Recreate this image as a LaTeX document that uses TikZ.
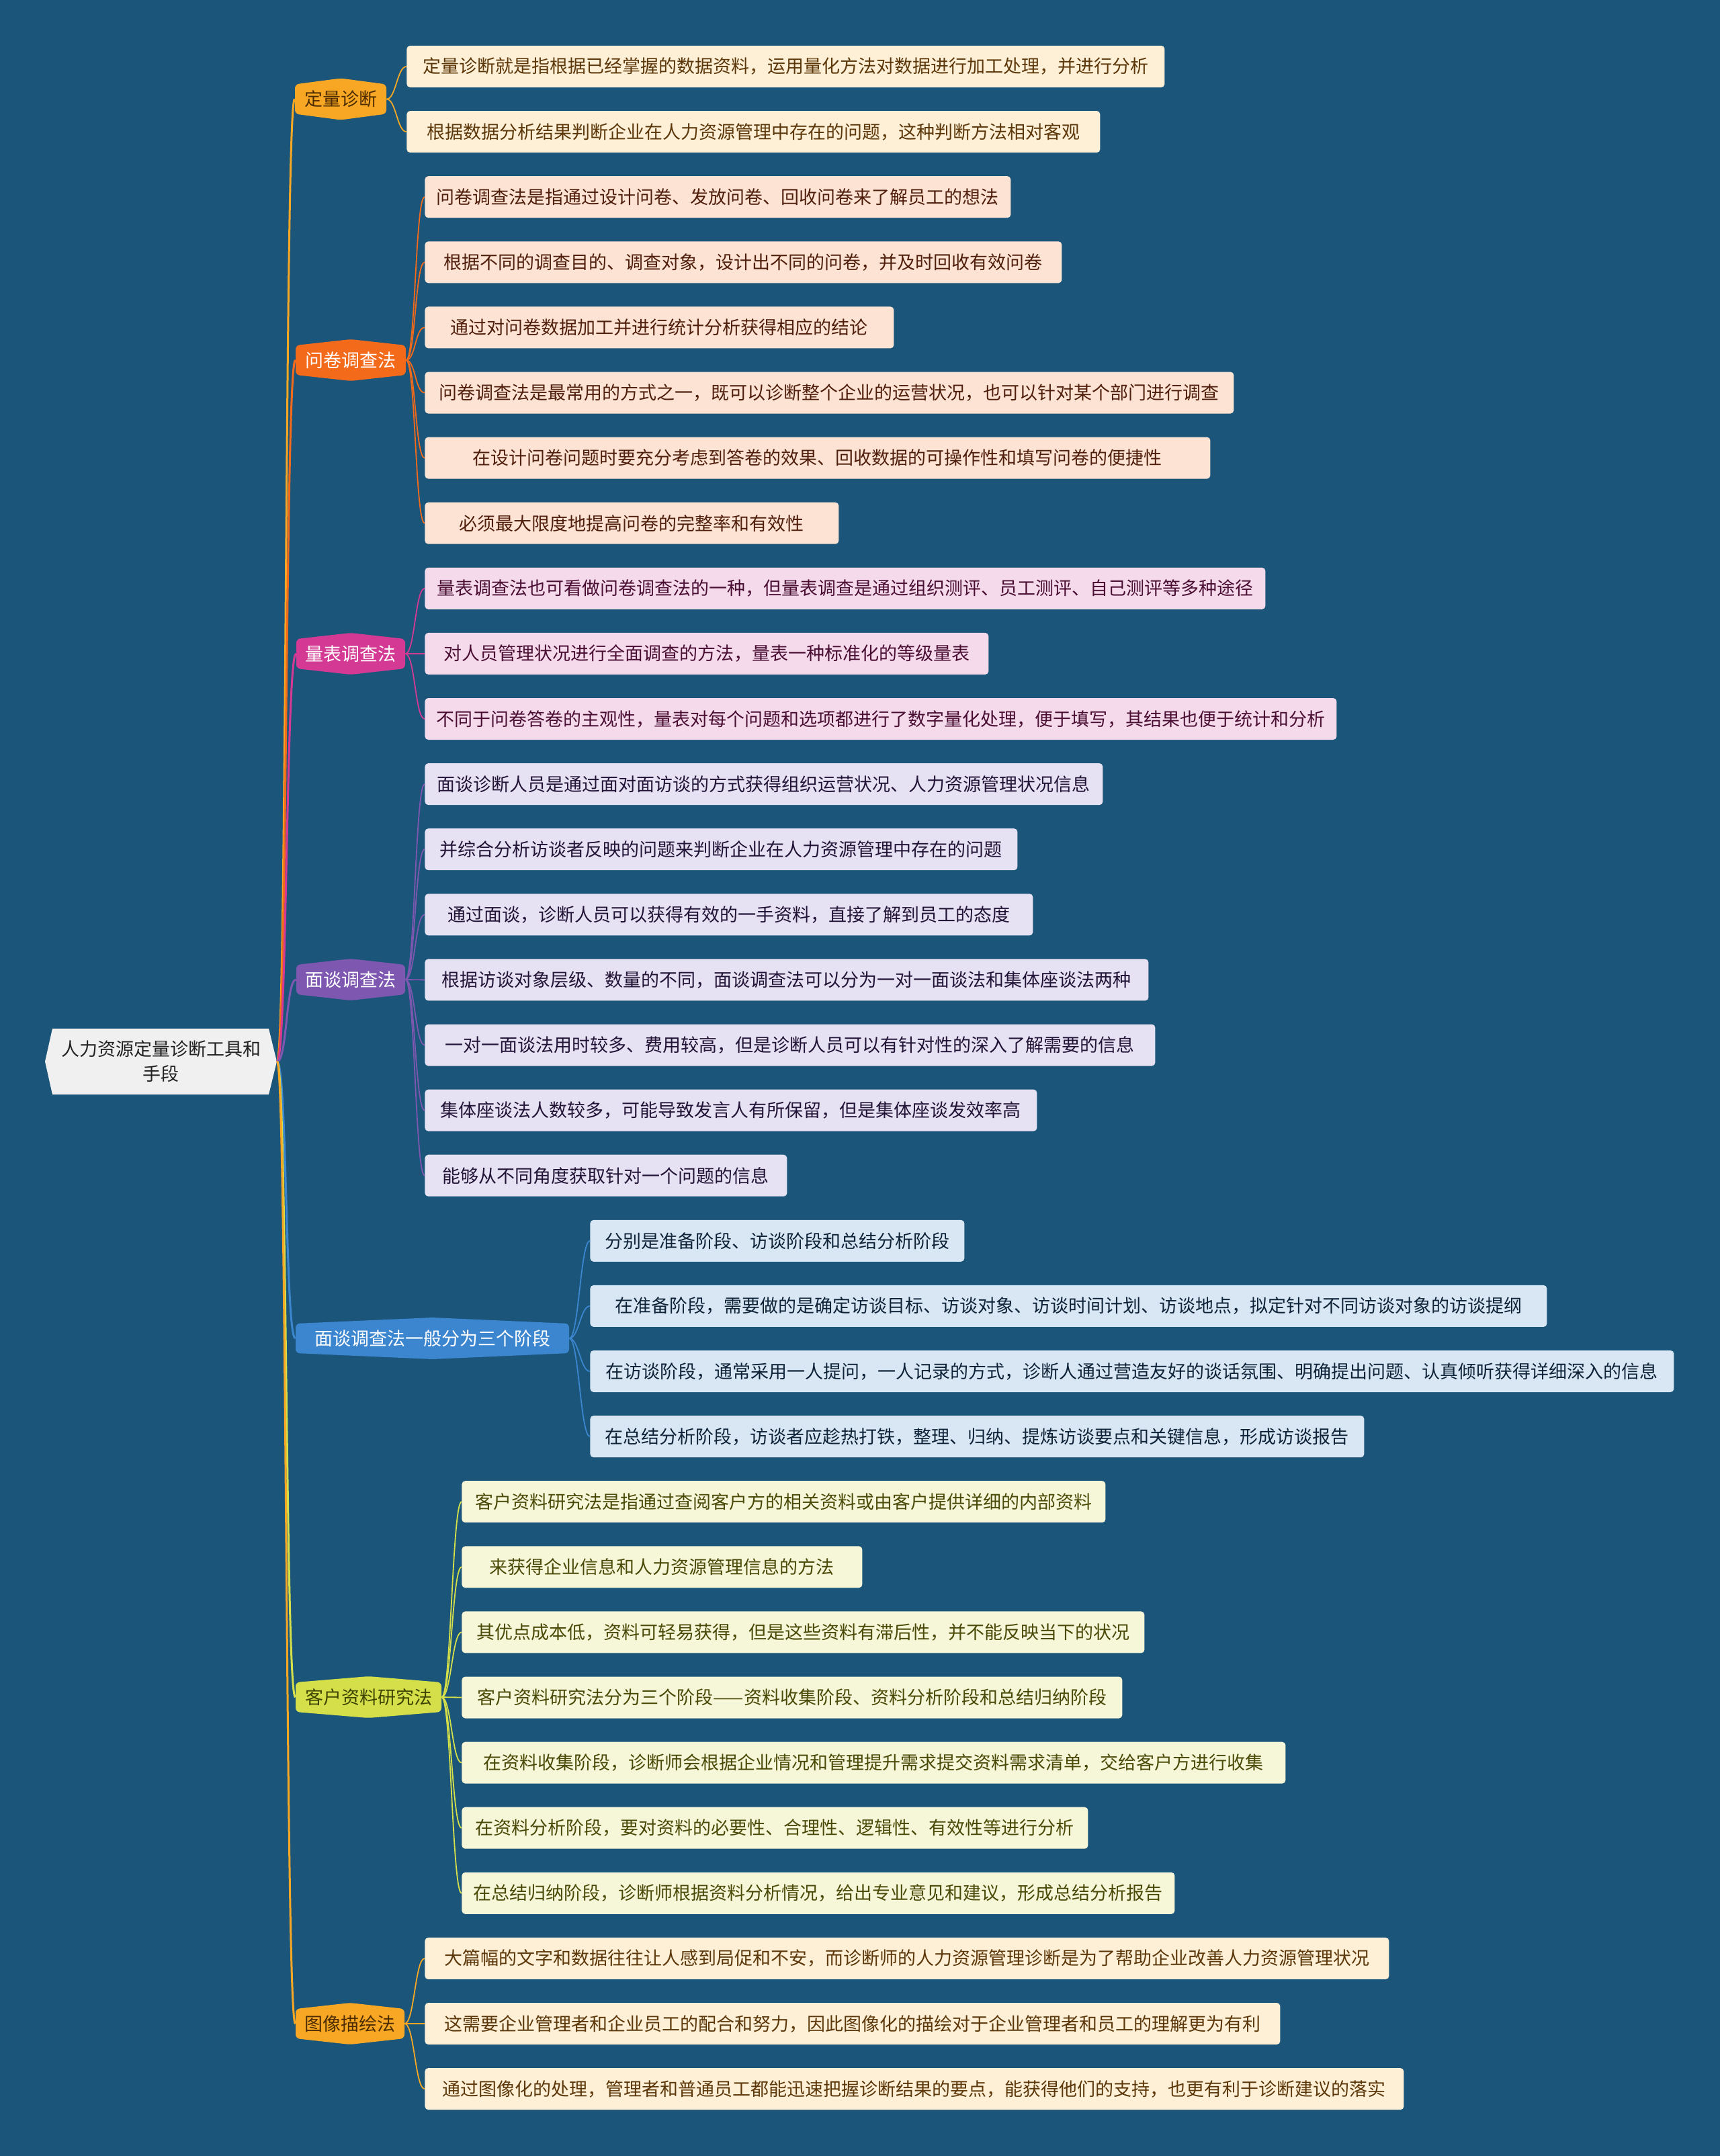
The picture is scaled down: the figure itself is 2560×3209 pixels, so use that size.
\documentclass[tikz,border=0pt]{standalone}
\usepackage{fontspec}
\newfontfamily\cjk{Noto Sans CJK SC}
\definecolor{bgc}{RGB}{27,85,121}
\definecolor{rootfill}{RGB}{240,240,241}
\definecolor{rootline}{RGB}{34,34,34}
% branch colours
\definecolor{cA}{RGB}{247,167,36}   % orange (定量, 图像)
\definecolor{cB}{RGB}{243,106,27}   % red orange (问卷)
\definecolor{cC}{RGB}{212,58,148}   % magenta (量表)
\definecolor{cD}{RGB}{126,87,176}   % purple (面谈)
\definecolor{cE}{RGB}{59,134,207}   % blue (三阶段)
\definecolor{cF}{RGB}{212,223,74}   % yellow green (客户)
% leaf fills
\definecolor{lA}{RGB}{253,240,214}
\definecolor{lB}{RGB}{252,227,211}
\definecolor{lC}{RGB}{245,218,236}
\definecolor{lD}{RGB}{230,225,243}
\definecolor{lE}{RGB}{217,231,245}
\definecolor{lF}{RGB}{246,246,217}
% leaf texts
\definecolor{tA}{RGB}{92,55,10}
\definecolor{tB}{RGB}{80,30,12}
\definecolor{tC}{RGB}{74,14,51}
\definecolor{tD}{RGB}{34,20,54}
\definecolor{tE}{RGB}{15,35,56}
\definecolor{tF}{RGB}{74,74,8}
\definecolor{tAbr}{RGB}{77,44,0}
\definecolor{tFbr}{RGB}{62,68,0}

\tikzset{
  txt/.style={font=\cjk\fontsize{13.5pt}{18.5pt}\selectfont},
  leafbox/.style={txt, rectangle, rounded corners=2.5pt, minimum height=31pt, inner sep=0pt, anchor=west},
  branchbox/.style={txt, rectangle, minimum height=31pt, inner sep=0pt},
  rootconn/.style={line width=1.5pt},
  leafconn/.style={line width=0.9pt},
  sA/.style={fill=lA, text=tA},
  sB/.style={fill=lB, text=tB},
  sC/.style={fill=lC, text=tC},
  sD/.style={fill=lD, text=tD},
  sE/.style={fill=lE, text=tE},
  sF/.style={fill=lF, text=tF},
}

% \branchnode{name}{x1}{x2}{yc}{fill}{textcol}{text}
\newcommand\branchnode[7]{%
  \fill[#5, rounded corners=3pt] (#2,#4-22) -- ({(#2+#3)/2},#4-31) -- (#3,#4-22) -- (#3,#4+22) -- ({(#2+#3)/2},#4+31) -- (#2,#4+22) -- cycle;
  \node[branchbox, text=#6, minimum width={(#3-#2)*0.5pt}] (#1) at ({(#2+#3)/2},#4) {#7};
  \draw[rootconn, #5] (root.east) .. controls +(15,0) and +(-15,0) .. (#1.west);
}
% \leafnode{parent}{name}{x1}{x2}{index}{style}{linecolor}{text}
\newcommand\leafnode[8]{%
  \node[leafbox, #6, minimum width={(#4-#3)*0.5pt}] (#2) at (#3,{99+97.1*#5}) {#8};
  \draw[leafconn, #7] (#1.east) .. controls +(14,0) and +(-14,0) .. (#2.west);
}

\begin{document}
\begin{tikzpicture}[x=0.5pt, y={(0pt,-0.5pt)}]
\fill[bgc] (0,0) rectangle (2560,3209);
\useasboundingbox (0,0) rectangle (2560,3209);

% root
\fill[rootfill] (67,1580) -- (78,1531) -- (400,1531) -- (412,1580) -- (400,1629) -- (78,1629) -- cycle;
\node[txt, text=rootline, align=center, text width=170pt, inner sep=0pt, minimum width=172.5pt, minimum height=49pt] (root) at (239.5,1580) {人力资源定量诊断工具和\\手段};

% branches
\branchnode{b1}{439}{575}{147.5}{cA}{tAbr}{定量诊断}
\branchnode{b2}{440}{604}{536}{cB}{white}{问卷调查法}
\branchnode{b3}{441}{603}{973}{cC}{white}{量表调查法}
\branchnode{b4}{441}{603}{1458}{cD}{white}{面谈调查法}
\branchnode{b5}{440}{847}{1992}{cE}{white}{面谈调查法一般分为三个阶段}
\branchnode{b6}{440}{657}{2526}{cF}{tFbr}{客户资料研究法}
\branchnode{b7}{440}{602}{3012}{cA}{tAbr}{图像描绘法}

% leaves
\leafnode{b1}{l0}{605}{1733}{0}{sA}{cA}{定量诊断就是指根据已经掌握的数据资料，运用量化方法对数据进行加工处理，并进行分析}
\leafnode{b1}{l1}{605}{1637}{1}{sA}{cA}{根据数据分析结果判断企业在人力资源管理中存在的问题，这种判断方法相对客观}

\leafnode{b2}{l2}{632}{1504}{2}{sB}{cB}{问卷调查法是指通过设计问卷、发放问卷、回收问卷来了解员工的想法}
\leafnode{b2}{l3}{632}{1580}{3}{sB}{cB}{根据不同的调查目的、调查对象，设计出不同的问卷，并及时回收有效问卷}
\leafnode{b2}{l4}{632}{1330}{4}{sB}{cB}{通过对问卷数据加工并进行统计分析获得相应的结论}
\leafnode{b2}{l5}{632}{1836}{5}{sB}{cB}{问卷调查法是最常用的方式之一，既可以诊断整个企业的运营状况，也可以针对某个部门进行调查}
\leafnode{b2}{l6}{632}{1801}{6}{sB}{cB}{在设计问卷问题时要充分考虑到答卷的效果、回收数据的可操作性和填写问卷的便捷性}
\leafnode{b2}{l7}{632}{1248}{7}{sB}{cB}{必须最大限度地提高问卷的完整率和有效性}

\leafnode{b3}{l8}{632}{1883}{8}{sC}{cC}{量表调查法也可看做问卷调查法的一种，但量表调查是通过组织测评、员工测评、自己测评等多种途径}
\leafnode{b3}{l9}{632}{1471}{9}{sC}{cC}{对人员管理状况进行全面调查的方法，量表一种标准化的等级量表}
\leafnode{b3}{l10}{632}{1989}{10}{sC}{cC}{不同于问卷答卷的主观性，量表对每个问题和选项都进行了数字量化处理，便于填写，其结果也便于统计和分析}

\leafnode{b4}{l11}{632}{1641}{11}{sD}{cD}{面谈诊断人员是通过面对面访谈的方式获得组织运营状况、人力资源管理状况信息}
\leafnode{b4}{l12}{632}{1514}{12}{sD}{cD}{并综合分析访谈者反映的问题来判断企业在人力资源管理中存在的问题}
\leafnode{b4}{l13}{632}{1537}{13}{sD}{cD}{通过面谈，诊断人员可以获得有效的一手资料，直接了解到员工的态度}
\leafnode{b4}{l14}{632}{1709}{14}{sD}{cD}{根据访谈对象层级、数量的不同，面谈调查法可以分为一对一面谈法和集体座谈法两种}
\leafnode{b4}{l15}{632}{1719}{15}{sD}{cD}{一对一面谈法用时较多、费用较高，但是诊断人员可以有针对性的深入了解需要的信息}
\leafnode{b4}{l16}{632}{1543}{16}{sD}{cD}{集体座谈法人数较多，可能导致发言人有所保留，但是集体座谈发效率高}
\leafnode{b4}{l17}{632}{1171}{17}{sD}{cD}{能够从不同角度获取针对一个问题的信息}

\leafnode{b5}{l18}{878}{1435}{18}{sE}{cE}{分别是准备阶段、访谈阶段和总结分析阶段}
\leafnode{b5}{l19}{878}{2302}{19}{sE}{cE}{在准备阶段，需要做的是确定访谈目标、访谈对象、访谈时间计划、访谈地点，拟定针对不同访谈对象的访谈提纲}
\leafnode{b5}{l20}{878}{2491}{20}{sE}{cE}{在访谈阶段，通常采用一人提问，一人记录的方式，诊断人通过营造友好的谈话氛围、明确提出问题、认真倾听获得详细深入的信息}
\leafnode{b5}{l21}{878}{2030}{21}{sE}{cE}{在总结分析阶段，访谈者应趁热打铁，整理、归纳、提炼访谈要点和关键信息，形成访谈报告}

\leafnode{b6}{l22}{687}{1645}{22}{sF}{cF}{客户资料研究法是指通过查阅客户方的相关资料或由客户提供详细的内部资料}
\leafnode{b6}{l23}{687}{1283}{23}{sF}{cF}{来获得企业信息和人力资源管理信息的方法}
\leafnode{b6}{l24}{687}{1703}{24}{sF}{cF}{其优点成本低，资料可轻易获得，但是这些资料有滞后性，并不能反映当下的状况}
\leafnode{b6}{l25}{687}{1670}{25}{sF}{cF}{客户资料研究法分为三个阶段——资料收集阶段、资料分析阶段和总结归纳阶段}
\leafnode{b6}{l26}{687}{1913}{26}{sF}{cF}{在资料收集阶段，诊断师会根据企业情况和管理提升需求提交资料需求清单，交给客户方进行收集}
\leafnode{b6}{l27}{687}{1619}{27}{sF}{cF}{在资料分析阶段，要对资料的必要性、合理性、逻辑性、有效性等进行分析}
\leafnode{b6}{l28}{687}{1748}{28}{sF}{cF}{在总结归纳阶段，诊断师根据资料分析情况，给出专业意见和建议，形成总结分析报告}

\leafnode{b7}{l29}{632}{2067}{29}{sA}{cA}{大篇幅的文字和数据往往让人感到局促和不安，而诊断师的人力资源管理诊断是为了帮助企业改善人力资源管理状况}
\leafnode{b7}{l30}{632}{1905}{30}{sA}{cA}{这需要企业管理者和企业员工的配合和努力，因此图像化的描绘对于企业管理者和员工的理解更为有利}
\leafnode{b7}{l31}{632}{2089}{31}{sA}{cA}{通过图像化的处理，管理者和普通员工都能迅速把握诊断结果的要点，能获得他们的支持，也更有利于诊断建议的落实}
\end{tikzpicture}
\end{document}
